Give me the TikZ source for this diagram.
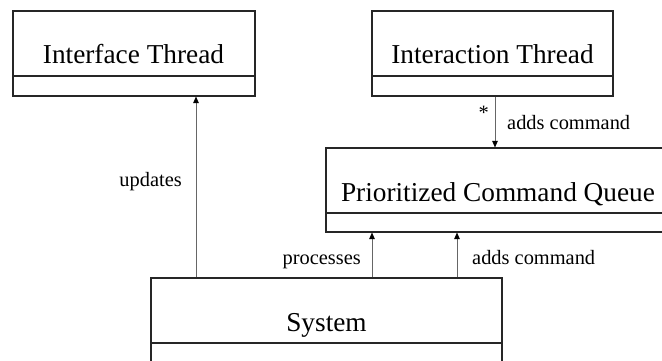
\documentclass[tikz,border=0pt]{standalone}
\usepackage{fontspec}
\setmainfont{Liberation Serif}
\usetikzlibrary{arrows.meta}

\tikzset{
  classbox/.style={draw=black!85, line width=1.1pt, rectangle, inner sep=0pt},
  divider/.style={draw=black!85, line width=1.1pt},
  classname/.style={anchor=base, inner sep=0pt, font=\fontsize{27.3}{32}\selectfont},
  conn/.style={draw=black!60, line width=0.9pt,
    -{Triangle[length=6.5pt,width=5.5pt,color=black]}},
  lbl/.style={inner sep=0pt, font=\fontsize{20.4}{24}\selectfont}
}

\begin{document}
\begin{tikzpicture}[x=1pt,y=-1pt]
  \useasboundingbox (0,0) rectangle (662,361);

  % class boxes (outer frame)
  \node[classbox, minimum width=242pt, minimum height=85pt] (iface) at (134,53.5) {};
  \node[classbox, minimum width=241pt, minimum height=85pt] (inter) at (492.5,53.5) {};
  \node[classbox, minimum width=344pt, minimum height=84pt] (queue) at (498,190) {};
  \node[classbox, minimum width=351pt, minimum height=85pt] (sys) at (326.5,320.5) {};

  % compartment dividers
  \draw[divider] (iface.west |- 0,76) -- (iface.east |- 0,76);
  \draw[divider] (inter.west |- 0,76) -- (inter.east |- 0,76);
  \draw[divider] (queue.west |- 0,213) -- (queue.east |- 0,213);
  \draw[divider] (sys.west |- 0,343) -- (sys.east |- 0,343);

  % class names
  \node[classname] (ifaceT) at (133.5,64) {Interface Thread};
  \node[classname] (interT) at (492.5,64) {Interaction Thread};
  \node[classname] (queueT) at (498,201) {Prioritized Command Queue};
  \node[classname] (sysT) at (326.5,331) {System};

  % connector columns
  \coordinate (cu) at (196,0);
  \coordinate (ci) at (495,0);
  \coordinate (cp) at (372,0);
  \coordinate (ca) at (457,0);

  % associations
  \draw[conn] (cu |- sys.north) -- (cu |- iface.south);
  \draw[conn] (ci |- inter.south) -- (ci |- queue.north);
  \draw[conn] (cp |- sys.north) -- (cp |- queue.south);
  \draw[conn] (ca |- sys.north) -- (ca |- queue.south);

  % association labels
  \node[lbl, anchor=base east] (lu) at (182,186) {updates};
  \node[lbl, anchor=base east] (lstar) at (489,119) {*};
  \node[lbl, anchor=base west] (la1) at (507,129) {adds command};
  \node[lbl, anchor=base east] (lp) at (361,264) {processes};
  \node[lbl, anchor=base west] (la2) at (472,264) {adds command};
\end{tikzpicture}
\end{document}
